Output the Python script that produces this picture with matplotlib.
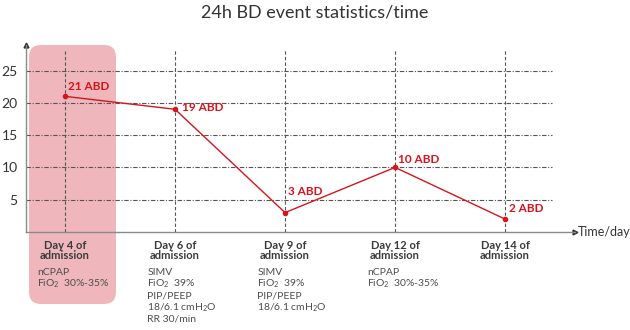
import matplotlib.pyplot as plt
from matplotlib.patches import FancyBboxPatch

plt.rcParams['font.family'] = ['Lato', 'DejaVu Sans']
plt.rcParams['mathtext.default'] = 'regular'

days = ['Day 4 of\nadmission', 'Day 6 of\nadmission', 'Day 9 of\nadmission',
        'Day 12 of\nadmission', 'Day 14 of\nadmission']
events = [21, 19, 3, 10, 2]
labels = ['21 ABD', '19 ABD', '3 ABD', '10 ABD', '2 ABD']
support = [
    ['nCPAP', 'FiO$_2$  30%-35%'],
    ['SIMV', 'FiO$_2$  39%', 'PIP/PEEP', '18/6.1 cmH$_2$O', 'RR 30/min'],
    ['SIMV', 'FiO$_2$  39%', 'PIP/PEEP', '18/6.1 cmH$_2$O'],
    ['nCPAP', 'FiO$_2$  30%-35%'],
    [],
]
yticks = [5, 10, 15, 20, 25]

red = '#d7141e'
grid_c = '#555555'
axis_c = '#8a8a8a'

fig = plt.figure(figsize=(6.3, 3.3), dpi=100)
ax = fig.add_axes([26 / 630, 98 / 330, 549 / 630, 187 / 330])
ax.patch.set_visible(False)

x = list(range(len(days)))
ax.set_xlim(-0.355, 4.636)
ax.set_ylim(0, 28.95)

# highlighted first day (drawn in inches so the corners stay round)
box = FancyBboxPatch((0.29, 0.26), 0.87, 2.59, boxstyle='round,pad=0,rounding_size=0.12',
                     transform=fig.dpi_scale_trans, facecolor='#efb7bb',
                     edgecolor='none', zorder=-1)
fig.patches.append(box)

# grid
ax.hlines(yticks, -0.355, 4.43, colors=grid_c, linestyles=(0, (4, 1.5, 1, 1.5)),
          linewidth=0.8, zorder=1)
ax.vlines(x, 0, 28.2, colors=grid_c, linestyles=(0, (3, 2)), linewidth=0.8, zorder=1)

ax.plot(x, events, color=red, linewidth=1.0, marker='o', markersize=3, zorder=3)

offsets = [(2, 3), (5, -3), (2, 11), (2, 1.5), (3, 3.5)]
for xi, yi, lab, off in zip(x, events, labels, offsets):
    ax.annotate(lab, (xi, yi), xytext=off, textcoords='offset points',
                ha='left', va='bottom', color=red, fontsize=8.5, fontweight='bold')

# axes with arrowheads
for s in ['top', 'right']:
    ax.spines[s].set_visible(False)
for s in ['left', 'bottom']:
    ax.spines[s].set_color(axis_c)
    ax.spines[s].set_linewidth(1.0)
ax.plot(1, 0, '>', color='#333333', markersize=3.5, transform=ax.transAxes, clip_on=False)
ax.plot(0, 1, '^', color='#333333', markersize=3.5, transform=ax.transAxes, clip_on=False)
ax.text(1.005, 0, 'Time/day', transform=ax.transAxes, ha='left', va='center',
        fontsize=9, color='#333333')

ax.set_yticks(yticks)
ax.set_yticklabels([str(t) for t in yticks], fontsize=10, color='#333333')
ax.tick_params(axis='y', length=0, pad=6)
ax.set_xticks([])

for xi, d, sup in zip(x, days, support):
    ax.annotate(d, (xi, 0), xytext=(0, -6), textcoords='offset points',
                ha='center', va='top', fontsize=8, fontweight='bold',
                color='#3a3a3a', linespacing=0.85, annotation_clip=False)
    # ventilation settings, one line at a time
    for i, line in enumerate(sup):
        ax.annotate(line, (xi, 0), xytext=(-20, -31 - 8.4 * i), textcoords='offset points',
                    ha='left', va='baseline', fontsize=7.5, color='#4d4d4d',
                    annotation_clip=False)

fig.suptitle('24h BD event statistics/time', fontsize=13, color='#333333',
             y=0.985, va='top')

fig.savefig('out.png', dpi=100)
